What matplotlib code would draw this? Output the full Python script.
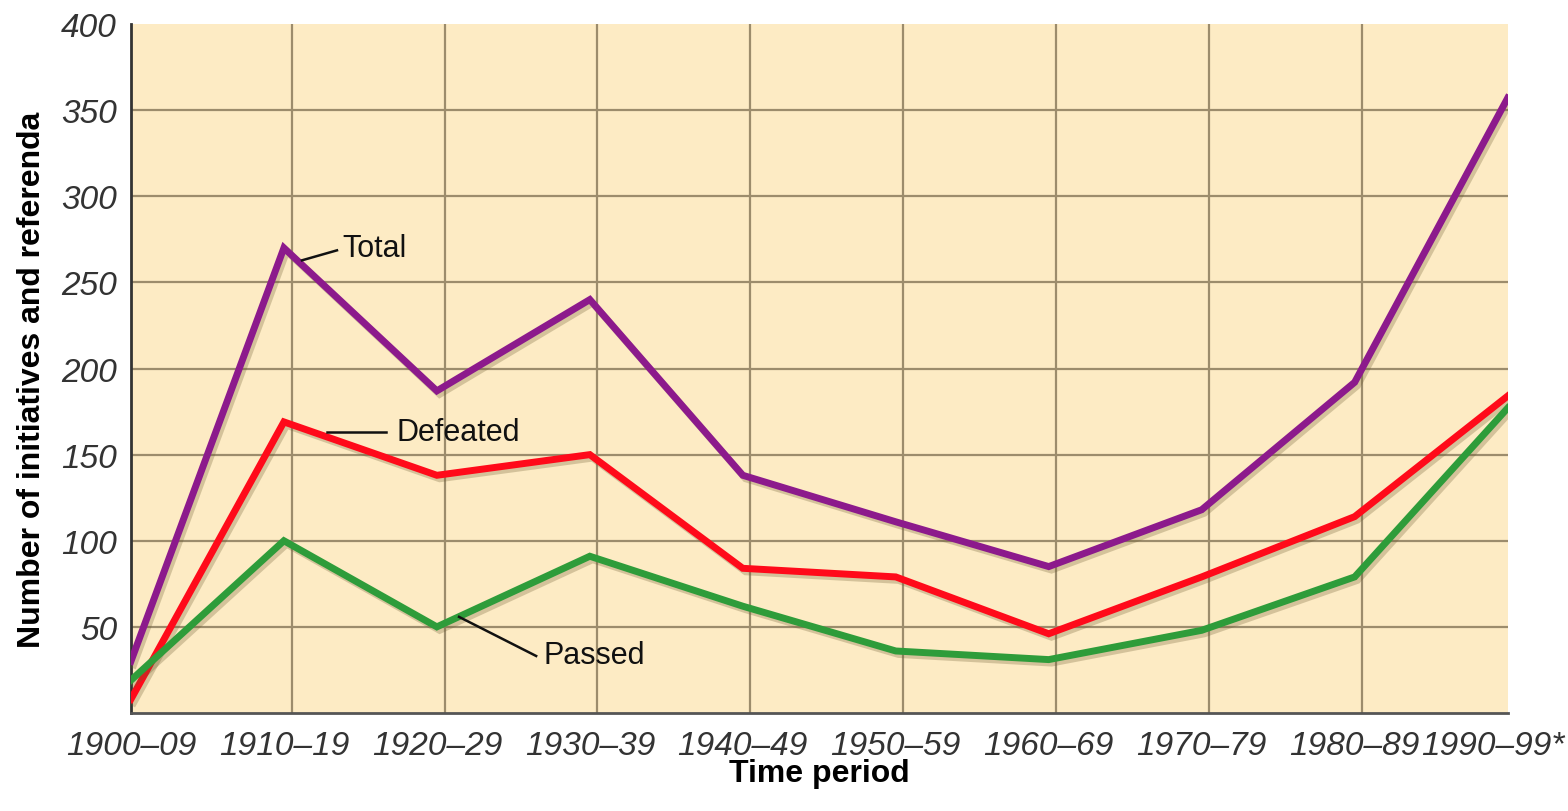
import matplotlib.pyplot as plt
import matplotlib.patheffects as pe
import matplotlib.transforms as mtransforms

# Data
periods = ['1900–09', '1910–19', '1920–29', '1930–39', '1940–49',
           '1950–59', '1960–69', '1970–79', '1980–89', '1990–99*']
total = [30, 270, 187, 240, 138, 111, 85, 118, 192, 357]
defeated = [8, 169, 138, 150, 84, 79, 46, 79, 114, 184]
passed = [19, 100, 50, 91, 62, 36, 31, 48, 79, 177]

x = list(range(len(periods)))
fam = ['Liberation Sans', 'DejaVu Sans']

fig = plt.figure(figsize=(15.68, 8.12), dpi=100)
ax = fig.add_axes([0.0835, 0.1207, 0.878, 0.8485])
ax.set_facecolor('#fdebc4')

# grid (vertical lines sit slightly right of the data points in the original)
grid_color = '#9c8c6c'
for v in [50, 100, 150, 200, 250, 300, 350]:
    ax.axhline(v, color=grid_color, lw=1.6, zorder=1)
for i in x[1:-1]:
    ax.axvline(i + 0.05, color=grid_color, lw=1.6, zorder=1)

shadow = [pe.SimpleLineShadow(offset=(2, -2.5), shadow_color='#6b5a30', alpha=0.28),
          pe.Normal()]

ax.plot(x, total, color='#8c1a8c', lw=5, zorder=3, path_effects=shadow,
        solid_joinstyle='miter')
ax.plot(x, defeated, color='#ff0a1a', lw=5, zorder=3, path_effects=shadow,
        solid_joinstyle='miter')
ax.plot(x, passed, color='#2e9c3a', lw=5, zorder=3, path_effects=shadow,
        solid_joinstyle='miter')

# line labels with leader lines
lab = dict(family=fam, fontsize=22, color='#111111', va='center', ha='left', zorder=5)
ax.plot([1.118, 1.347], [262.8, 268.6], color='#111111', lw=1.8, zorder=4)
ax.text(1.38, 270, 'Total', **lab)
ax.plot([1.282, 1.668], [163.4, 163.4], color='#111111', lw=1.8, zorder=4)
ax.text(1.733, 163.4, 'Defeated', **lab)
ax.plot([2.145, 2.649], [55.8, 33.1], color='#111111', lw=1.8, zorder=4)
ax.text(2.70, 33.5, 'Passed', **lab)

ax.set_xlim(0, 9)
ax.set_ylim(0, 400)
ax.set_xticks(x)
ax.set_xticklabels(periods)
ax.set_yticks([50, 100, 150, 200, 250, 300, 350, 400])
ax.tick_params(length=0, labelsize=24, labelcolor='#333333')
ax.tick_params(axis='x', pad=12)
ax.tick_params(axis='y', pad=10)
for t in ax.get_xticklabels() + ax.get_yticklabels():
    t.set_fontstyle('italic')
    t.set_family(fam)

# the last label is nudged left so it stays inside the figure
last = ax.get_xticklabels()[-1]
last.set_transform(last.get_transform() +
                   mtransforms.ScaledTranslation(-0.15, 0, fig.dpi_scale_trans))

ax.spines['top'].set_visible(False)
ax.spines['right'].set_visible(False)
ax.spines['left'].set_color('#333333')
ax.spines['left'].set_linewidth(2)
ax.spines['bottom'].set_color('#555555')
ax.spines['bottom'].set_linewidth(2)

ax.set_xlabel('Time period', fontsize=23, fontweight='bold', family=fam, labelpad=-2)
ax.set_ylabel('Number of initiatives and referenda', fontsize=23, fontweight='bold',
              family=fam)
ax.yaxis.set_label_coords(-0.061, 0.485)

fig.savefig('out.png', dpi=100)
